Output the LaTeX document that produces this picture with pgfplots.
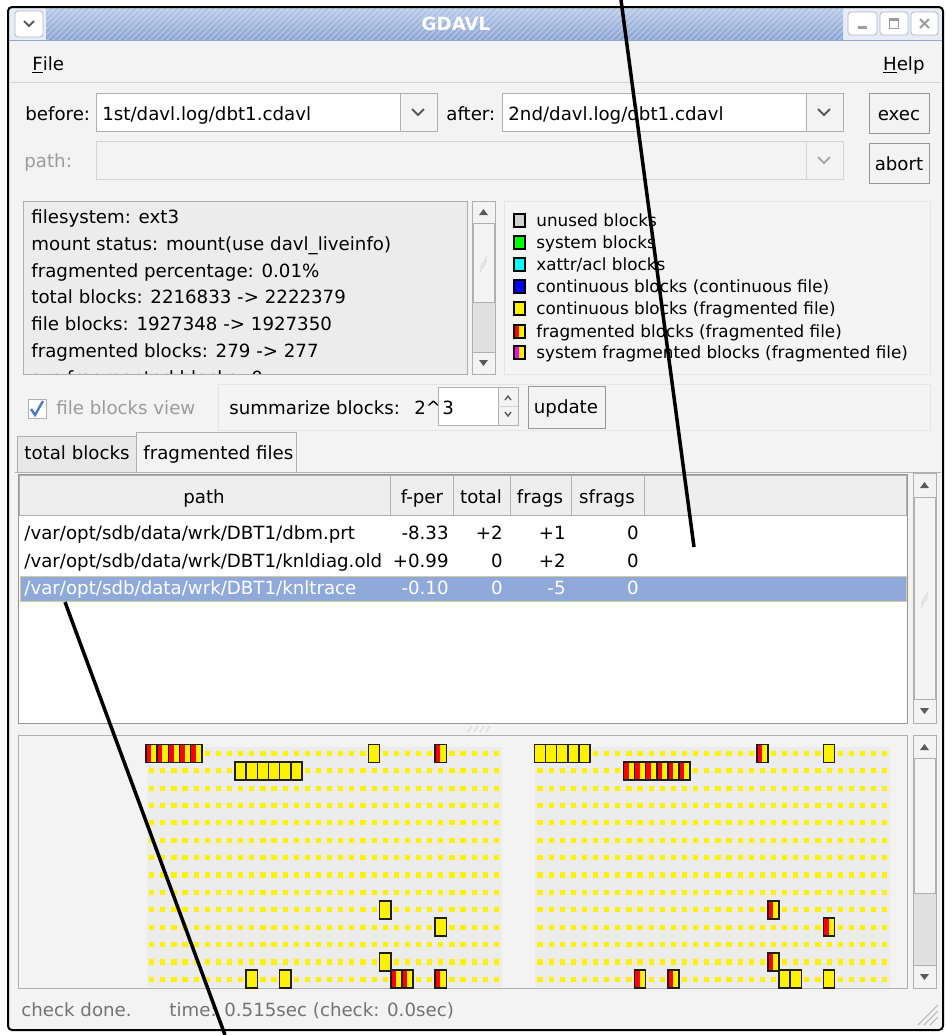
\documentclass[border=0pt]{standalone}
\usepackage{fontspec}
\setmainfont{DejaVu Sans}
\usepackage{pgfplots}
\pgfplotsset{compat=1.18}
\usetikzlibrary{patterns}

\definecolor{winbg}{RGB}{243,243,243}
\definecolor{infobg}{RGB}{236,236,236}
\definecolor{bord}{RGB}{176,176,176}
\definecolor{lbord}{RGB}{212,212,212}
\definecolor{btnbord}{RGB}{150,150,150}
\definecolor{hdrbg}{RGB}{238,238,238}
\definecolor{selrow}{RGB}{143,170,218}
\definecolor{selbord}{RGB}{214,202,160}
\definecolor{ttop}{RGB}{184,201,232}
\definecolor{tbot}{RGB}{140,164,212}
\definecolor{tside}{RGB}{232,236,244}
\definecolor{tline}{RGB}{150,165,195}
\definecolor{tbtn}{RGB}{175,185,205}
\definecolor{gridbg}{RGB}{236,236,236}
\definecolor{dimtxt}{RGB}{155,155,155}
\definecolor{stattxt}{RGB}{115,115,115}
\definecolor{arrowc}{RGB}{90,90,90}
\definecolor{trough}{RGB}{224,224,224}
\definecolor{thumb}{RGB}{244,244,244}
\definecolor{blkbord}{RGB}{30,30,30}
\definecolor{checkc}{RGB}{80,120,200}
\definecolor{sysgreen}{RGB}{0,255,0}
\definecolor{xcyan}{RGB}{0,255,255}
\definecolor{xmag}{RGB}{255,0,255}

\newcommand\ui{\fontsize{9.1}{11}\selectfont}
\newcommand\legf{\fontsize{8.4}{10}\selectfont}

% block marks: continuous (yellow) and fragmented (red + yellow)
\pgfdeclareplotmark{cblk}{%
  \pgfpathrectangle{\pgfpoint{-2.78pt}{-4.5pt}}{\pgfpoint{5.56pt}{9pt}}%
  \pgfsetfillcolor{yellow}\pgfusepath{fill,stroke}}
\pgfdeclareplotmark{fblk}{%
  \pgfpathrectangle{\pgfpoint{-2.78pt}{-4.5pt}}{\pgfpoint{5.56pt}{9pt}}%
  \pgfsetfillcolor{yellow}\pgfusepath{fill}%
  \pgfpathrectangle{\pgfpoint{-2.78pt}{-4.5pt}}{\pgfpoint{2.6pt}{9pt}}%
  \pgfsetfillcolor{red}\pgfusepath{fill}%
  \pgfpathrectangle{\pgfpoint{-2.78pt}{-4.5pt}}{\pgfpoint{5.56pt}{9pt}}%
  \pgfusepath{stroke}}

\begin{document}
\begin{tikzpicture}[font=\ui,
  T/.style={anchor=base west, inner sep=0pt},
  C/.style={anchor=base, inner sep=0pt},
  R/.style={anchor=base east, inner sep=0pt}]
\begin{axis}[
  width=473.5pt, height=517.5pt, scale only axis,
  xmin=0, xmax=947, ymin=0, ymax=1035, y dir=reverse,
  hide axis, clip=false]

\coordinate (SW) at (0,1035);
\coordinate (NE) at (947,0);
\fill[white] (0,0) rectangle (947,1035);
\fill[winbg, rounded corners=2pt] (8,7) rectangle (943,1030);

% title bar
\fill[tside] (9,8) rectangle (942,40);
\shade[top color=ttop, bottom color=tbot] (46,8) rectangle (843,40);
\fill[pattern=north east lines, pattern color=white, opacity=0.4] (46,8) rectangle (843,40);
\draw[tline] (9,40.5) -- (942,40.5);
\node[font=\ui\bfseries, text=white] at (456,24) {GDAVL};
\draw[rounded corners=1.5pt, draw=tbtn, fill=white] (15,11) rectangle (43,37);
\draw[arrowc, line width=0.9pt] (24,21) -- (29,26) -- (34,21);
\draw[rounded corners=1.5pt, draw=tbtn, fill=white] (848,12) rectangle (877,35);
\draw[rounded corners=1.5pt, draw=tbtn, fill=white] (880,12) rectangle (908,35);
\draw[rounded corners=1.5pt, draw=tbtn, fill=white] (911,12) rectangle (938,35);
\fill[arrowc!60] (858,26) rectangle (867,29);
\draw[arrowc!60, line width=0.6pt] (889.5,18.5) rectangle (898.5,28.5);
\fill[arrowc!60] (889,18) rectangle (899,21);
\draw[arrowc!60, line width=1pt] (920,19) -- (929,28) (929,19) -- (920,28);

% menu
\node[T] at (32,70) {\underline{F}ile};
\node[R] at (925,70) {\underline{H}elp};
\draw[lbord] (10,82) -- (941,82);

% file selectors
\node[T] at (25,120) {before:};
\draw[bord, fill=white] (96,93) rectangle (400,131);
\draw[bord, fill=winbg] (400,93) rectangle (437,131);
\draw[arrowc, line width=0.9pt] (412,109) -- (418,115) -- (424,109);
\node[T] at (102,120) {1st/davl.log/dbt1.cdavl};
\node[T] at (446,120) {after:};
\draw[bord, fill=white] (502,93) rectangle (806,131);
\draw[bord, fill=winbg] (806,93) rectangle (843,131);
\draw[arrowc, line width=0.9pt] (818,109) -- (824,115) -- (830,109);
\node[T] at (508,120) {2nd/davl.log/dbt1.cdavl};
\draw[btnbord, fill=winbg] (869,93) rectangle (929,133);
\node[C] at (899,120) {exec};

\node[T, text=dimtxt] at (24,167) {path:};
\draw[lbord, fill=winbg] (96,141) rectangle (806,179);
\draw[lbord, fill=winbg] (806,141) rectangle (843,179);
\draw[lbord!80!black, line width=0.9pt] (818,157) -- (824,163) -- (830,157);
\draw[btnbord, fill=winbg] (869,143) rectangle (929,183);
\node[C] at (899,170) {abort};

% info panel
\draw[bord, fill=infobg] (23,201) rectangle (467,374);
\begin{scope}
\clip (24,202) rectangle (466,373);
\node[T] at (31,223) {filesystem: ext3};
\node[T] at (31,250) {mount status: mount(use davl\_liveinfo)};
\node[T] at (31,277) {fragmented percentage: 0.01\%};
\node[T] at (31,303) {total blocks: 2216833 -> 2222379};
\node[T] at (31,330) {file blocks: 1927348 -> 1927350};
\node[T] at (31,357) {fragmented blocks: 279 -> 277};
\node[T] at (31,384) {sys fragmented blocks: 0};
\end{scope}
\draw[bord, fill=trough] (472,201) rectangle (495,374);
\draw[bord, fill=thumb] (473,223) rectangle (494,302);
\draw[lbord] (480,268) -- (487,256) (480,272) -- (487,260);
\draw[bord, fill=winbg] (472,201) rectangle (495,223);
\fill[arrowc] (479,215) -- (483.5,209) -- (488,215) -- cycle;
\draw[bord, fill=winbg] (472,352) rectangle (495,374);
\fill[arrowc] (479,360) -- (483.5,366) -- (488,360) -- cycle;

% legend panel
\draw[lbord!60!white, fill=thumb] (504,201) rectangle (930,374);
\begin{scope}[line width=0.7pt]
\draw[black, fill=black!18] (514,214) rectangle (525,227);
\draw[black, fill=sysgreen] (514,236) rectangle (525,249);
\draw[black, fill=xcyan] (514,258) rectangle (525,271);
\draw[black, fill=blue] (514,280) rectangle (525,293);
\draw[black, fill=yellow] (514,302) rectangle (525,315);
\fill[yellow] (514,325) rectangle (525,338);
\fill[red] (514,325) rectangle (519,338);
\draw[black] (514,325) rectangle (525,338);
\fill[yellow] (514,346) rectangle (525,359);
\fill[xmag] (514,346) rectangle (519,359);
\draw[black] (514,346) rectangle (525,359);
\end{scope}
\node[T, font=\legf] at (536,226.5) {unused blocks};
\node[T, font=\legf] at (536,248.5) {system blocks};
\node[T, font=\legf] at (536,270.5) {xattr/acl blocks};
\node[T, font=\legf] at (536,292.5) {continuous blocks (continuous file)};
\node[T, font=\legf] at (536,314.5) {continuous blocks (fragmented file)};
\node[T, font=\legf] at (536,337.5) {fragmented blocks (fragmented file)};
\node[T, font=\legf] at (536,358.5) {system fragmented blocks (fragmented file)};

% view options
\draw[bord, fill=white] (28,399) rectangle (46,418);
\draw[checkc, line width=1.2pt] (31,409) -- (35,415) -- (43,401);
\node[T, text=dimtxt] at (56,414) {file blocks view};
\draw[lbord!60!white, fill=thumb] (218,384) rectangle (930,430);
\node[T] at (229,414) {summarize blocks:};
\node[T] at (414,414) {2\textasciicircum};
\draw[bord, fill=white] (438,387) rectangle (498,425);
\draw[bord, fill=winbg] (498,387) rectangle (518,425);
\draw[lbord] (498,406) -- (518,406);
\draw[arrowc, line width=0.7pt] (505,400) -- (508,396) -- (511,400);
\draw[arrowc, line width=0.7pt] (505,412) -- (508,416) -- (511,412);
\node[T] at (442,414) {3};
\draw[btnbord, fill=winbg] (528,386) rectangle (605,428);
\node[C] at (566,413) {update};

% tabs
\draw[bord] (15,472) -- (941,472);
\draw[bord, fill=black!9] (17,436) rectangle (136,472);
\node[T] at (24,459) {total blocks};
\draw[bord, fill=winbg] (136,472) -- (136,432) -- (296,432) -- (296,472);
\node[T] at (143,459) {fragmented files};

% file table
\draw[btnbord, fill=white] (18,474) rectangle (907,723);
\draw[bord, fill=hdrbg] (19,475) rectangle (390,515);
\draw[bord, fill=hdrbg] (390,475) rectangle (453,515);
\draw[bord, fill=hdrbg] (453,475) rectangle (510,515);
\draw[bord, fill=hdrbg] (510,475) rectangle (571,515);
\draw[bord, fill=hdrbg] (571,475) rectangle (644,515);
\draw[bord, fill=hdrbg] (644,475) rectangle (906,515);
\node[C] at (204,503) {path};
\node[C] at (422,503) {f-per};
\node[C] at (481,503) {total};
\node[C] at (540,503) {frags};
\node[C] at (607,503) {sfrags};
\node[T] at (24,539) {/var/opt/sdb/data/wrk/DBT1/dbm.prt};
\node[R] at (449,539) {-8.33};
\node[R] at (503,539) {+2};
\node[R] at (566,539) {+1};
\node[R] at (639,539) {0};
\node[T] at (24,567) {/var/opt/sdb/data/wrk/DBT1/knldiag.old};
\node[R] at (449,567) {+0.99};
\node[R] at (503,567) {0};
\node[R] at (566,567) {+2};
\node[R] at (639,567) {0};
\draw[selbord, fill=selrow] (20,576) rectangle (906,601);
\node[T, text=white] at (24,594) {/var/opt/sdb/data/wrk/DBT1/knltrace};
\node[R, text=white] at (449,594) {-0.10};
\node[R, text=white] at (503,594) {0};
\node[R, text=white] at (566,594) {-5};
\node[R, text=white] at (639,594) {0};
\draw[bord, fill=trough] (913,473) rectangle (936,723);
\draw[bord, fill=thumb] (914,497) rectangle (935,699);
\draw[lbord] (921,604) -- (928,592) (921,608) -- (928,596);
\draw[bord, fill=winbg] (913,473) rectangle (936,497);
\fill[arrowc] (920,488) -- (924.5,482) -- (929,488) -- cycle;
\draw[bord, fill=winbg] (913,699) rectangle (936,723);
\fill[arrowc] (920,708) -- (924.5,714) -- (929,708) -- cycle;

% splitter grip
\draw[lbord] (468,732) -- (472,726) (474,732) -- (478,726) (480,732) -- (484,726) (486,732) -- (490,726);

% block map panel
\draw[bord, fill=winbg] (18,735) rectangle (907,988);
\fill[gridbg] (147,747) rectangle (502,987);
\fill[gridbg] (535,747) rectangle (890,987);
\draw[bord, fill=trough] (913,735) rectangle (936,988);
\draw[bord, fill=thumb] (914,758) rectangle (935,893);
\draw[bord, fill=winbg] (913,735) rectangle (936,758);
\fill[arrowc] (920,750) -- (924.5,744) -- (929,750) -- cycle;
\draw[bord, fill=winbg] (913,965) rectangle (936,988);
\fill[arrowc] (920,974) -- (924.5,980) -- (929,974) -- cycle;

% summarized blocks, one dotted row per line (before | after)
\addplot[yellow, line width=2.6pt, dash pattern=on 2.6pt off 2.96pt,
  empty line=jump, mark=none, forget plot] table {
x y
149.1 753.3
498.9 753.3

149.1 770.7
498.9 770.7

149.1 788.1
498.9 788.1

149.1 805.4
498.9 805.4

149.1 822.8
498.9 822.8

149.1 840.2
498.9 840.2

149.1 857.6
498.9 857.6

149.1 874.9
498.9 874.9

149.1 892.3
498.9 892.3

149.1 909.7
498.9 909.7

149.1 927.1
498.9 927.1

149.1 944.5
498.9 944.5

149.1 961.9
498.9 961.9

149.1 979.2
498.9 979.2

537.4 753.3
887.2 753.3

537.4 770.7
887.2 770.7

537.4 788.1
887.2 788.1

537.4 805.4
887.2 805.4

537.4 822.8
887.2 822.8

537.4 840.2
887.2 840.2

537.4 857.6
887.2 857.6

537.4 874.9
887.2 874.9

537.4 892.3
887.2 892.3

537.4 909.7
887.2 909.7

537.4 927.1
887.2 927.1

537.4 944.5
887.2 944.5

537.4 961.9
887.2 961.9

537.4 979.2
887.2 979.2
};

% continuous blocks of fragmented files
\addplot[only marks, mark=cblk, mark options={draw=blkbord, line width=0.8pt, solid}, forget plot] table {
x y
374.1 753.3
240.7 770.7
251.8 770.7
263.0 770.7
274.1 770.7
285.2 770.7
296.3 770.7
385.2 909.7
440.8 927.1
385.2 961.9
251.8 979.2
285.2 979.2
540.0 753.3
551.1 753.3
562.2 753.3
573.4 753.3
584.5 753.3
829.1 753.3
784.6 979.2
795.8 979.2
829.1 979.2
};

% fragmented blocks
\addplot[only marks, mark=fblk, mark options={draw=blkbord, line width=0.8pt, solid}, forget plot] table {
x y
151.7 753.3
162.8 753.3
173.9 753.3
185.1 753.3
196.2 753.3
440.8 753.3
396.3 979.2
407.5 979.2
440.8 979.2
762.4 753.3
629.0 770.7
640.1 770.7
651.2 770.7
662.4 770.7
673.5 770.7
684.6 770.7
773.5 909.7
829.1 927.1
773.5 961.9
640.1 979.2
673.5 979.2
};

% status bar
\node[T, text=stattxt] at (21,1016) {check done.};
\node[T, text=stattxt] at (169,1016) {time: 0.515sec (check: 0.0sec)};
\draw[bord] (918,1025) -- (938,1005) (924,1025) -- (938,1011) (930,1025) -- (938,1017);

% window border
\draw[black, line width=1pt, rounded corners=2pt] (8,7) rectangle (943,1030);

% annotation lines
\draw[black, line width=1.75pt] (621,0) -- (694,547);
\draw[black, line width=1.75pt] (65,602) -- (225,1035);
\end{axis}
\pgfresetboundingbox
\path[use as bounding box] (SW) rectangle (NE);
\end{tikzpicture}
\end{document}
